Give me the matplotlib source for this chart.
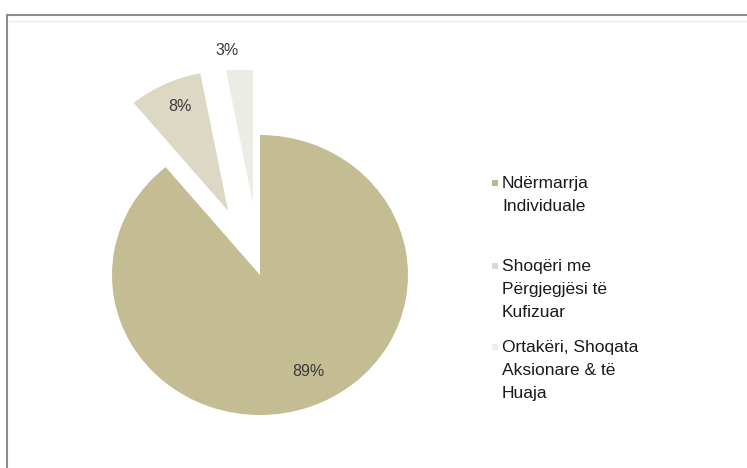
import matplotlib.pyplot as plt
import matplotlib.patches as mpatches
import numpy as np

plt.rcParams['font.family'] = ['Liberation Sans', 'DejaVu Sans']

labels = ["Ndërmarrja\nIndividuale",
          "Shoqëri me\nPërgjegjësi të\nKufizuar",
          "Ortakëri, Shoqata\nAksionare & të\nHuaja"]
shares = [89, 8, 3]
colors = ["#c4bc92", "#ddd8c4", "#ececE4"]
legend_colors = ["#b9bb8c", "#d9d9d2", "#ececec"]

W, H = 747, 468
fig = plt.figure(figsize=(W / 100, H / 100), dpi=100)
ax = fig.add_axes([0, 0, 1, 1])
sy = 0.946  # the picture is slightly squashed vertically
cx0, cy0 = 260, 275  # pie centre, pixels from top-left

R = 148
wedges, texts, autotexts = ax.pie(shares, colors=colors, startangle=90, counterclock=False,
                                  explode=[0, 75, 76], radius=R, autopct='%1.0f%%',
                                  pctdistance=0.75, wedgeprops=dict(linewidth=0),
                                  textprops=dict(fontsize=11.5, color='#3a3a3a'))
ax.set_aspect('auto')
ax.set_xlim(-cx0, W - cx0)
ax.set_ylim(-(H - cy0) / sy, cy0 / sy)
ax.axis('off')

# plot area clips the exploded slices at the top
top = (cy0 - 70) / sy
clip = mpatches.Rectangle((-cx0, -H), W, H + top, transform=ax.transData)
for w in wedges:
    w.set_clip_on(True)
    w.set_clip_path(clip)

# nudge the percent labels to where the original puts them
w = wedges[2]
th = np.deg2rad((w.theta1 + w.theta2) / 2)
wx, wy = w.center
autotexts[2].set_position((wx - 10 + 1.1 * R * np.cos(th), wy + 1.1 * R * np.sin(th)))
autotexts[1].set_position(np.array(autotexts[1].get_position()) + [-1, 10])
autotexts[0].set_position(np.array(autotexts[0].get_position()) + [11, 2])

# legend: marker next to the first line of each entry
first_lines = [183, 266, 347]
for lab, c, yl in zip(labels, legend_colors, first_lines):
    fig.add_artist(mpatches.Rectangle((492 / W, 1 - (yl + 3) / H), 6 / W, 6 / H,
                                      transform=fig.transFigure, facecolor=c, edgecolor='none'))
    fig.text(502 / W, 1 - (yl - 7) / H, lab, fontsize=12.5, color='#1a1a1a',
             va='top', ha='left', linespacing=1.68)

# chart border
fig.add_artist(mpatches.Rectangle((7 / W, -0.1), 1, 1.1 - 15 / H, transform=fig.transFigure,
                                  fill=False, edgecolor='#8c8c8c', lw=1.5))
fig.add_artist(plt.Line2D([9 / W, 1], [1 - 21 / H, 1 - 21 / H], transform=fig.transFigure,
                          color='#ececec', lw=1))

fig.savefig('out.png', dpi=100)
